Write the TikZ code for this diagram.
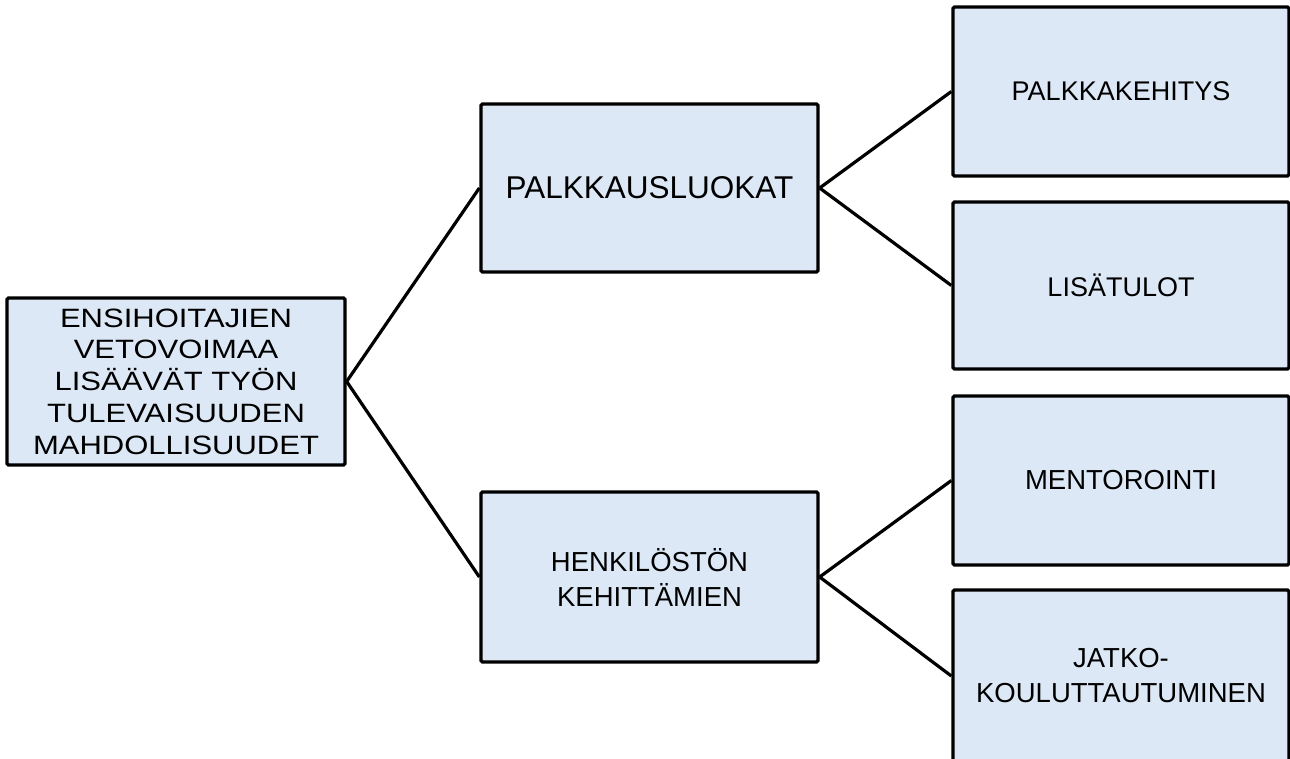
\documentclass[tikz,border=0pt]{standalone}
\usepackage{fontspec}
\setmainfont{Liberation Sans}
\newfontfamily\rootfont[FakeStretch=1.17]{Liberation Sans}
\definecolor{boxfill}{RGB}{220,232,245}
\tikzset{
  box/.style={draw=black, fill=boxfill, line width=3.3pt, rounded corners=1.5pt,
    inner sep=0pt, align=center, text=black},
  link/.style={draw=black, line width=3.2pt},
}
\begin{document}
\begin{tikzpicture}[x=1pt,y=-1pt]
\useasboundingbox (0,0) rectangle (1290,758);
\node[box, minimum width=338pt, minimum height=167pt,
  font=\rootfont\fontsize{26.5}{31.7}\selectfont] (root) at (176,381.5)
  {ENSIHOITAJIEN\\VETOVOIMAA\\LISÄÄVÄT TYÖN\\TULEVAISUUDEN\\MAHDOLLISUUDET};
\node[box, minimum width=337pt, minimum height=168pt,
  font=\fontsize{31.5}{36}\selectfont] (pal) at (649.5,188) {PALKKAUSLUOKAT};
\node[box, minimum width=337pt, minimum height=170pt,
  font=\fontsize{27.5}{35}\selectfont] (hen) at (649.5,577) {HENKILÖSTÖN\\KEHITTÄMIEN};
\node[box, minimum width=336pt, minimum height=169pt,
  font=\fontsize{27}{35}\selectfont] (pk) at (1121,91.5) {PALKKAKEHITYS};
\node[box, minimum width=336pt, minimum height=167pt,
  font=\fontsize{27}{35}\selectfont] (lis) at (1121,285.5) {LISÄTULOT};
\node[box, minimum width=336pt, minimum height=169pt,
  font=\fontsize{27.5}{35}\selectfont] (men) at (1121,480.5) {MENTOROINTI};
\node[box, minimum width=336pt, minimum height=172pt,
  font=\fontsize{27.5}{35}\selectfont] (jat) at (1121,676) {JATKO-\\KOULUTTAUTUMINEN};
\draw[link] (root.east) -- (pal.west);
\draw[link] (root.east) -- (hen.west);
\draw[link] (pal.east) -- (pk.west);
\draw[link] (pal.east) -- (lis.west);
\draw[link] (hen.east) -- (men.west);
\draw[link] (hen.east) -- (jat.west);
\end{tikzpicture}
\end{document}
